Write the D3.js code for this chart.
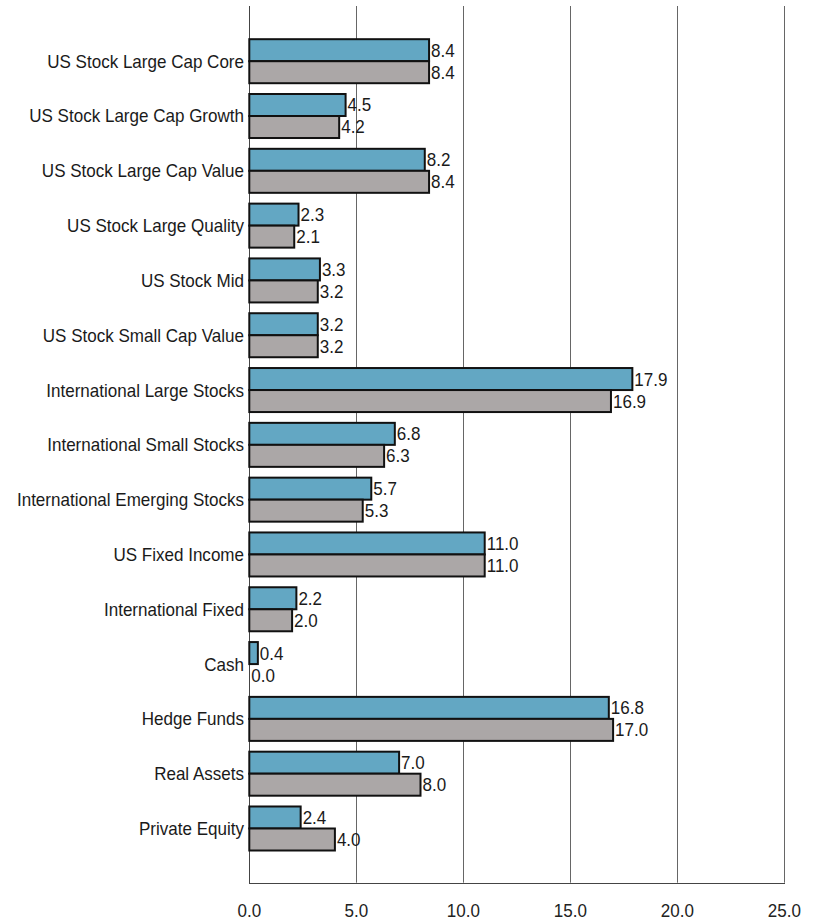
<!DOCTYPE html>
<html><head><meta charset="utf-8">
<script src="https://cdn.jsdelivr.net/npm/d3@7"></script>
<style>body{margin:0;background:#fff}svg{display:block}text{font-family:"Liberation Sans",Arial,sans-serif}</style>
</head><body>
<script>
const categories = ["US Stock Large Cap Core","US Stock Large Cap Growth","US Stock Large Cap Value","US Stock Large Quality","US Stock Mid","US Stock Small Cap Value","International Large Stocks","International Small Stocks","International Emerging Stocks","US Fixed Income","International Fixed","Cash","Hedge Funds","Real Assets","Private Equity"];
const seriesA = [8.4,4.5,8.2,2.3,3.3,3.2,17.9,6.8,5.7,11.0,2.2,0.4,16.8,7.0,2.4];
const seriesB = [8.4,4.2,8.4,2.1,3.2,3.2,16.9,6.3,5.3,11.0,2.0,0.0,17.0,8.0,4.0];
const xTicks = [0,5,10,15,20,25];
const colors = ["#63a7c3","#aba7a7"];

const W=823,H=923;
const FS=18.5, SQ=0.92;
const svg=d3.select("body").append("svg").attr("width",W).attr("height",H);
const x=d3.scaleLinear().domain([0,25]).range([249.3,784.3]);
const y=d3.scaleBand().domain(categories).range([33.8,855.9]).paddingInner(0.197).paddingOuter(0.0985);
const sub=d3.scaleBand().domain([0,1]).range([0,y.bandwidth()]);
const plotTop=6, plotBot=882.7;

function squeeze(sel){
  sel.each(function(){ const L=this.getComputedTextLength(); this.setAttribute("textLength",L*SQ); this.setAttribute("lengthAdjust","spacingAndGlyphs"); });
}

svg.append("g").selectAll("line").data(xTicks.slice(1)).join("line")
  .attr("x1",d=>Math.round(x(d))+0.5).attr("x2",d=>Math.round(x(d))+0.5)
  .attr("y1",plotTop).attr("y2",plotBot).attr("stroke","#666").attr("stroke-width",1);
svg.append("line").attr("x1",Math.round(x(0))+0.5).attr("x2",Math.round(x(0))+0.5).attr("y1",plotTop).attr("y2",plotBot+0.5).attr("stroke","#444");
svg.append("line").attr("x1",Math.round(x(0))).attr("x2",Math.round(x(25))+1).attr("y1",Math.round(plotBot)+0.5).attr("y2",Math.round(plotBot)+0.5).attr("stroke","#444");

svg.append("g").selectAll("text").data(xTicks).join("text")
  .attr("x",d=>x(d)).attr("y",917).attr("text-anchor","middle")
  .attr("font-size",FS).attr("fill","#222").text(d=>d.toFixed(1)).call(squeeze);

svg.append("g").selectAll("text").data(categories).join("text")
  .attr("x",244).attr("y",d=>y(d)+y.bandwidth()/2).attr("dy","0.35em")
  .attr("text-anchor","end").attr("font-size",FS).attr("fill","#1a1a1a").text(d=>d).call(squeeze);

const series=[seriesA,seriesB];
series.forEach((vals,si)=>{
  const g=svg.append("g");
  g.selectAll("rect").data(categories).join("rect")
    .attr("x",x(0)).attr("y",(d)=>y(d)+sub(si))
    .attr("width",(d,i)=>Math.max(0,x(vals[i])-x(0))).attr("height",sub.bandwidth())
    .attr("fill",colors[si]).attr("stroke",(d,i)=>vals[i]>0?"#111":"none").attr("stroke-width",2);
  g.selectAll("text").data(categories).join("text")
    .attr("x",(d,i)=>x(vals[i])+2).attr("y",d=>y(d)+sub(si)+sub.bandwidth()/2).attr("dy","0.35em")
    .attr("font-size",FS).attr("fill","#1a1a1a").text((d,i)=>vals[i].toFixed(1)).call(squeeze);
});
</script>
</body></html>
